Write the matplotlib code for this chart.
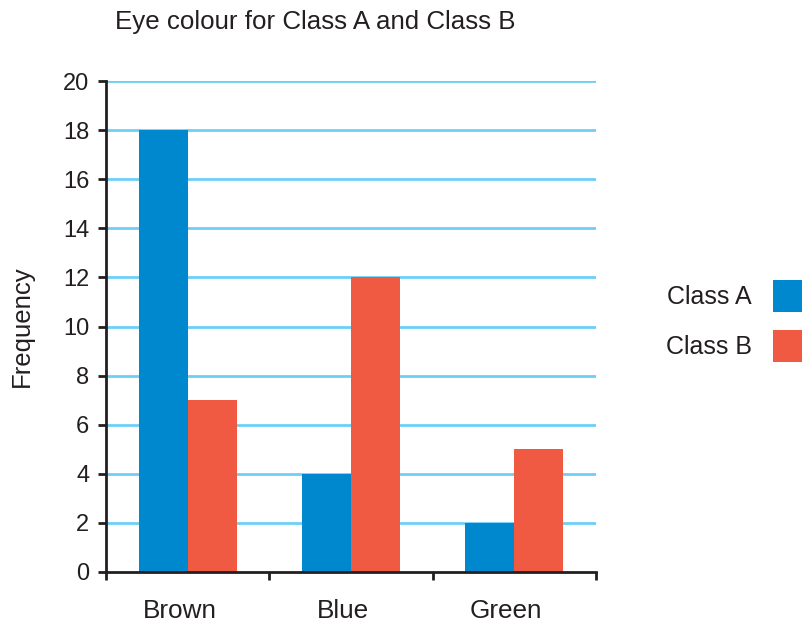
import numpy as np
import matplotlib
matplotlib.use("Agg")
import matplotlib.pyplot as plt

categories = ["Brown", "Blue", "Green"]
class_a = [18, 4, 2]
class_b = [7, 12, 5]
series_labels = ["Class A", "Class B"]
y_ticks = [0, 2, 4, 6, 8, 10, 12, 14, 16, 18, 20]

BLUE = "#0088CF"
RED = "#F15A42"
GRID = "#6DCFF6"
INK = "#231F20"

plt.rcParams["font.family"] = ["Liberation Sans", "DejaVu Sans"]

fig = plt.figure(figsize=(8.03, 6.24), dpi=100)
ax = fig.add_axes([106 / 803, 1 - 572 / 624, (596 - 106) / 803, (572 - 81) / 624])

x = np.arange(len(categories)) + 0.5
w = 0.3
ax.bar(x - w / 2, class_a, width=w, color=BLUE, linewidth=0, zorder=3, label=series_labels[0])
ax.bar(x + w / 2, class_b, width=w, color=RED, linewidth=0, zorder=3, label=series_labels[1])

# horizontal grid lines
for t in y_ticks[1:]:
    ax.axhline(t, color=GRID, linewidth=2, zorder=1)

ax.set_xlim(0, 3)
ax.set_ylim(0, 20)
ax.set_yticks(y_ticks)
ax.set_xticks([0, 1, 2, 3])
ax.set_xticklabels([])
# category names sit slightly left of the bar pairs in the original
for xi, name in zip(x, categories):
    ax.text(xi - 0.05, -1.6, name, ha="center", va="center", fontsize=18.8, color=INK)

for s in ["top", "right"]:
    ax.spines[s].set_visible(False)
for s in ["left", "bottom"]:
    ax.spines[s].set_color(INK)
    ax.spines[s].set_linewidth(2)
    ax.spines[s].set_zorder(4)

ax.tick_params(axis="y", length=6, width=2, color=INK, labelsize=17, labelcolor=INK, pad=6)
ax.tick_params(axis="x", length=6, width=2, color=INK)

ax.set_ylabel("Frequency", fontsize=18.5, color=INK)
ax.yaxis.set_label_coords(-0.148, 0.5)

fig.text(115 / 803, 1 - 22 / 624, "Eye colour for Class A and Class B",
         fontsize=18.6, color=INK, ha="left", va="center")

ax.legend(loc="upper right", bbox_to_anchor=(1.0, 1 - 280 / 624),
          bbox_transform=fig.transFigure, frameon=False, markerfirst=False,
          fontsize=18, handlelength=1.2, handleheight=1.59, handletextpad=0.85,
          labelspacing=0.72, borderpad=0, borderaxespad=0, labelcolor=INK)

fig.savefig("out.png", dpi=100)
